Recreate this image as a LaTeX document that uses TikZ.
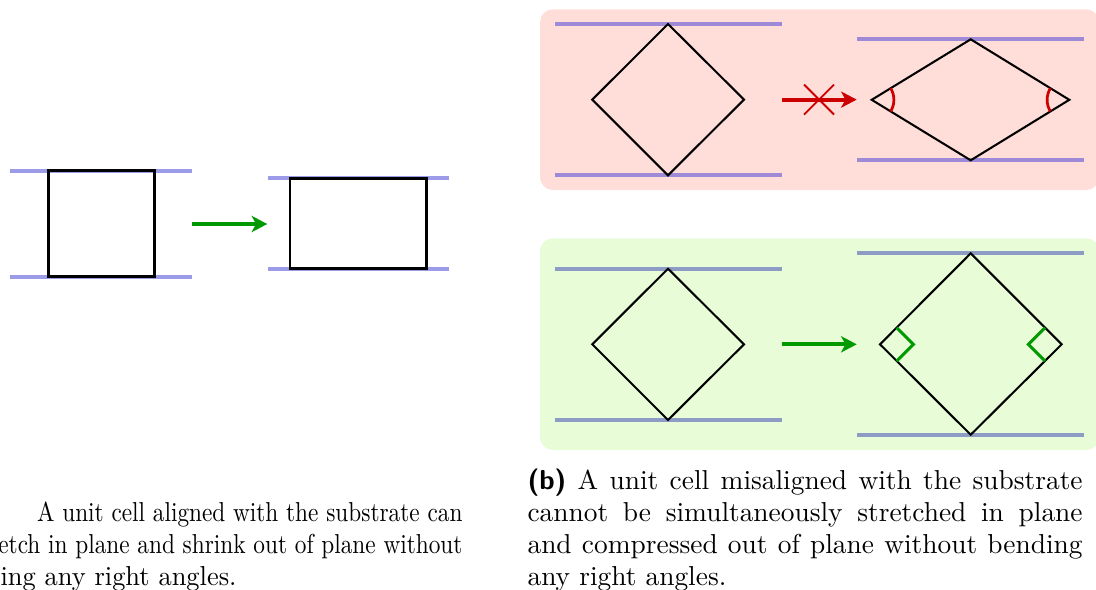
\documentclass[tikz,border=0pt]{standalone}
\usetikzlibrary{arrows.meta}
\definecolor{subA}{RGB}{155,155,232}
\definecolor{subR}{RGB}{158,138,215}
\definecolor{subG}{RGB}{140,156,196}
\definecolor{bgR}{RGB}{255,222,218}
\definecolor{bgG}{RGB}{232,252,216}
\definecolor{arrG}{RGB}{0,153,0}
\definecolor{arrR}{RGB}{204,0,0}
\begin{document}
\begin{tikzpicture}[x=0.365pt,y=-0.365pt,
  substrate/.style={line width=1.5pt},
  cellsq/.style={draw=black,line width=0.95pt,line join=miter},
  celldia/.style={draw=black,line width=0.75pt,line join=miter},
  movearrow/.style={line width=1.5pt,-{Stealth[length=5.7pt,width=5.9pt,inset=1.6pt]}},
  panel/.style={rounded corners=4.7pt},
  anglemark/.style={line width=1pt,arrR},
  rightmark/.style={line width=1.1pt,arrG},
  capline/.style={inner sep=0pt,font=\normalsize}]
\useasboundingbox (0,0) rectangle (1096,589);

% ---------- (a) ----------
\draw[substrate,subA] (10,170.7) -- (192,170.7) (10,276.7) -- (192,276.7);
\draw[cellsq] (48.3,170.7) rectangle (154.3,276.7);
\coordinate (a1) at (192,224);
\coordinate (a2) at (267.3,224);
\draw[movearrow,arrG] (a1) -- (a2);
\draw[substrate,subA] (267.7,178.3) -- (449,178.3) (267.7,268.7) -- (449,268.7);
\draw[cellsq] (290,178.3) rectangle (426.3,268.7);

% ---------- (b) top: not possible ----------
\fill[bgR,panel] (540,9.3) rectangle (1099,190);
\draw[substrate,subR] (555,24) -- (781.7,24) (555,175.3) -- (781.7,175.3);
\draw[celldia] (668,24) -- (744,99.6) -- (668,175.3) -- (592.3,99.6) -- cycle;
\coordinate (r1) at (781.7,99.6);
\coordinate (r2) at (856.7,99.6);
\draw[movearrow,arrR] (r1) -- (r2);
\coordinate (rx) at (819,99.6);
\draw[arrR,line width=0.7pt] ([shift={(-15,-15)}]rx) -- ([shift={(15,15)}]rx)
  ([shift={(-15,15)}]rx) -- ([shift={(15,-15)}]rx);
\draw[substrate,subR] (857.3,39.3) -- (1084,39.3) (857.3,160.3) -- (1084,160.3);
\draw[celldia] (871.7,99.8) -- (970.7,39.3) -- (1069.3,99.8) -- (970.7,160.3) -- cycle;
\coordinate (rl) at (871.7,99.8);
\coordinate (rr) at (1069.3,99.8);
\draw[anglemark] (rl) ++(-31.4:8.1pt) arc[start angle=-31.4,end angle=31.4,radius=8.1pt];
\draw[anglemark] (rr) ++(148.6:8.1pt) arc[start angle=148.6,end angle=211.4,radius=8.1pt];

% ---------- (b) bottom: possible ----------
\fill[bgG,panel] (540,238.3) rectangle (1099,450);
\draw[substrate,subG] (555,268.7) -- (781.7,268.7) (555,420) -- (781.7,420);
\draw[celldia] (668,268.7) -- (744,344.3) -- (668,420) -- (592.3,344.3) -- cycle;
\coordinate (g1) at (781.7,344.3);
\coordinate (g2) at (856.7,344.3);
\draw[movearrow,arrG] (g1) -- (g2);
\draw[substrate,subG] (857.3,253.3) -- (1084,253.3) (857.3,434.7) -- (1084,434.7);
\draw[celldia] (880,344.3) -- (970.7,253.3) -- (1061.7,344.3) -- (970.7,434.7) -- cycle;
\draw[rightmark] (896.7,327.6) -- (913.4,344.3) -- (896.7,361);
\draw[rightmark] (1045,327.6) -- (1028.3,344.3) -- (1045,361);

% ---------- captions ----------
\node[capline,anchor=base east] (ca1) at (463,521)
  {\scalebox{0.85}[1]{A unit cell aligned with the substrate can}};
\node[capline,anchor=base east] (ca2) at (463,553)
  {\scalebox{0.85}[1]{etch in plane and shrink out of plane without}};
\node[capline,anchor=base west] (ca3) at (0,585)
  {\scalebox{0.965}[1]{ing any right angles.}};
\node[capline,anchor=base west] (cb) at (527,489)
  {\parbox[t]{202.6pt}{\baselineskip=11.68pt \textsf{\bfseries (b)} A unit cell misaligned with the substrate cannot be simultaneously stretched in plane and compressed out of plane without bending any right angles.}};
\end{tikzpicture}
\end{document}
